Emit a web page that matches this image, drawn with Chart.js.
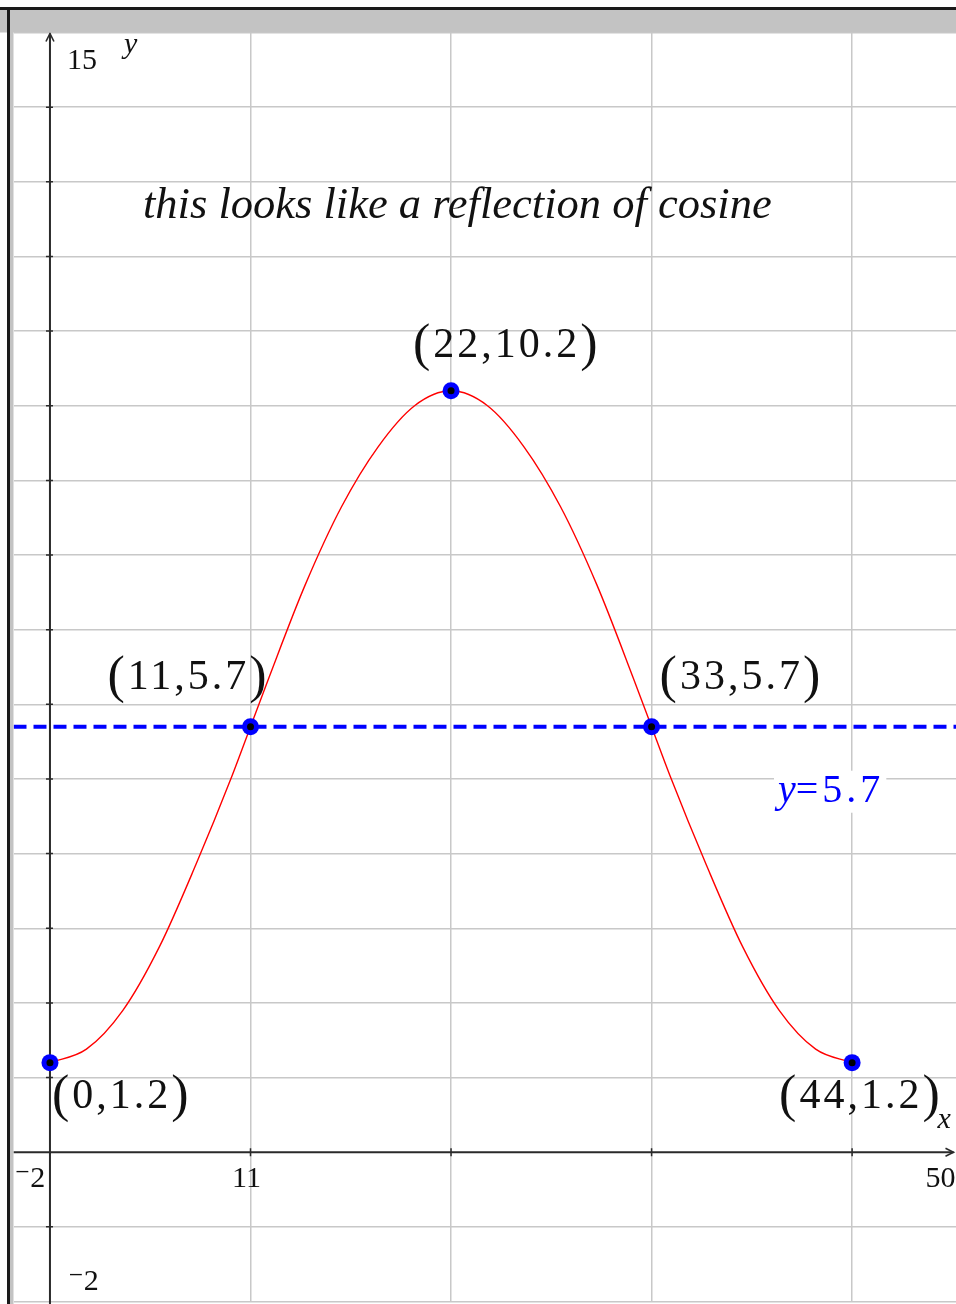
<!DOCTYPE html>
<html>
<head>
<meta charset="utf-8">
<script src="https://cdn.jsdelivr.net/npm/chart.js@4.4.1/dist/chart.umd.min.js"></script>
<style>
  html, body { margin: 0; padding: 0; background: #fff; overflow: hidden; }
  canvas { display: block; }
</style>
</head>
<body>
<canvas id="graph" width="970" height="1310"></canvas>
<script>
// window of the graph
const xRange = [-2, 50];
const yRange = [-2, 15];
const xGridStep = 11;
const yGridStep = 1;

// traced curve, sampled every 2 units plus the crossings
const curveX = [0, 2, 4, 6, 8, 10, 11, 12, 14, 16, 18, 20, 22, 24, 26, 28, 30, 32, 33, 34, 36, 38, 40, 42, 44];
const curveY = [1.2, 1.38, 1.9, 2.75, 3.85, 5.05, 5.7, 6.35, 7.6, 8.65, 9.45, 10.0, 10.2, 10.0, 9.45, 8.65, 7.6, 6.35, 5.7, 5.05, 3.85, 2.75, 1.9, 1.38, 1.2];

// marked points
const pointX = [0, 11, 22, 33, 44];
const pointY = [1.2, 5.7, 10.2, 5.7, 1.2];

// horizontal level line
const levelY = 5.7;

const note = 'this looks like a reflection of cosine';

const SERIF = '"Liberation Serif", "DejaVu Serif", serif';
const BLUE = '#0000ff';

const curveData = curveX.map((x, i) => ({ x, y: curveY[i] }));
const markData = pointX.map((x, i) => ({ x, y: pointY[i] }));
const levelData = [{ x: xRange[0], y: levelY }, { x: xRange[1], y: levelY }];

// where each coordinate label sits relative to its point (px)
const labelOffsets = [[2, 45], [-143, -38], [-38, -34], [8, -38], [-73, 45]];

function fmt(v) { return String(v); }
function minus(v) { return v < 0 ? '\u207B' + Math.abs(v) : String(v); }

// "(a,b)" with tall parentheses and loose digits
function drawCoord(ctx, text, left, base) {
  ctx.fillStyle = '#111';
  ctx.textAlign = 'left';
  ctx.textBaseline = 'alphabetic';
  ctx.font = '52px ' + SERIF;
  ctx.letterSpacing = '0px';
  ctx.fillText('(', left, base + 3);
  let x = left + ctx.measureText('(').width + 3;
  ctx.font = '42px ' + SERIF;
  ctx.letterSpacing = '3px';
  ctx.fillText(text, x, base);
  x += ctx.measureText(text).width;
  ctx.font = '52px ' + SERIF;
  ctx.letterSpacing = '0px';
  ctx.fillText(')', x, base + 3);
}

const graphPaper = {
  id: 'graphPaper',
  beforeDraw(chart) {
    const ctx = chart.ctx;
    ctx.save();
    ctx.fillStyle = '#fff';
    ctx.fillRect(0, 0, chart.width, chart.height);
    ctx.restore();
  },
  beforeDatasetsDraw(chart) {
    const { ctx, scales: { x, y } } = chart;
    const x0 = x.getPixelForValue(0);
    const y0 = y.getPixelForValue(0);
    const tipX = x.getPixelForValue(xRange[1]) - 8;
    const tipY = y.getPixelForValue(yRange[1]) + 1;
    ctx.save();
    ctx.strokeStyle = '#2a2a2a';
    ctx.lineWidth = 2;
    ctx.beginPath();
    ctx.moveTo(x0, chart.height);
    ctx.lineTo(x0, tipY);
    ctx.moveTo(chart.chartArea.left, y0);
    ctx.lineTo(tipX, y0);
    ctx.stroke();
    // arrow heads
    ctx.lineWidth = 1.6;
    ctx.beginPath();
    ctx.moveTo(x0 - 4, tipY + 8);
    ctx.lineTo(x0, tipY);
    ctx.lineTo(x0 + 4, tipY + 8);
    ctx.moveTo(tipX - 8, y0 - 4);
    ctx.lineTo(tipX, y0);
    ctx.lineTo(tipX - 8, y0 + 4);
    ctx.stroke();
    // tick marks
    ctx.lineWidth = 1.5;
    ctx.beginPath();
    for (let v = yRange[0] + 1; v < yRange[1]; v += yGridStep) {
      if (v === 0) continue;
      const py = y.getPixelForValue(v);
      ctx.moveTo(x0 - 4, py);
      ctx.lineTo(x0 + 3, py);
    }
    for (let v = xGridStep; v < xRange[1]; v += xGridStep) {
      const px = x.getPixelForValue(v);
      ctx.moveTo(px, y0 - 4);
      ctx.lineTo(px, y0 + 4);
    }
    ctx.stroke();
    ctx.restore();
  },
  afterDraw(chart) {
    const { ctx, scales: { x, y } } = chart;
    const x0 = x.getPixelForValue(0);
    const y0 = y.getPixelForValue(0);
    ctx.save();

    // window frame and title strip
    ctx.fillStyle = '#c3c3c3';
    ctx.fillRect(0, 10, chart.width, chart.chartArea.top - 10);
    ctx.fillRect(10, 10, 3.5, chart.height);
    ctx.fillStyle = '#1a1a1a';
    ctx.fillRect(0, 7, chart.width, 3);
    ctx.fillRect(7, 7, 3, chart.height);

    // axis numbers
    ctx.fillStyle = '#111';
    ctx.font = '30px ' + SERIF;
    ctx.textBaseline = 'alphabetic';
    ctx.textAlign = 'left';
    ctx.fillText(minus(yRange[1]), x0 + 17, y.getPixelForValue(yRange[1]) + 36);
    ctx.fillText(minus(yRange[0]), x0 + 18, y.getPixelForValue(yRange[0]) - 12);
    ctx.fillText(minus(xRange[0]), x.getPixelForValue(xRange[0]) + 1, y0 + 35);
    ctx.textAlign = 'center';
    ctx.fillText(minus(xGridStep), x.getPixelForValue(xGridStep) - 4, y0 + 35);
    ctx.textAlign = 'right';
    ctx.fillText(minus(xRange[1]), x.getPixelForValue(xRange[1]) - 6, y0 + 35);

    // axis names
    ctx.font = 'italic 30px ' + SERIF;
    ctx.textAlign = 'left';
    ctx.fillText('y', x0 + 74, y.getPixelForValue(yRange[1]) + 20);
    ctx.fillText('x', x.getPixelForValue(xRange[1]) - 24, y0 - 24);

    // note
    ctx.font = 'italic 44.5px ' + SERIF;
    ctx.fillText(note, 143, 218);

    // coordinate labels
    pointX.forEach((v, i) => {
      const px = x.getPixelForValue(v);
      const py = y.getPixelForValue(pointY[i]);
      const [dx, dy] = labelOffsets[i];
      drawCoord(ctx, fmt(v) + ',' + fmt(pointY[i]), px + dx, py + dy);
    });

    // level line equation on a white patch
    const eqLeft = 778;
    const eqBase = y.getPixelForValue(levelY) + 75;
    ctx.font = 'italic 40px ' + SERIF;
    ctx.letterSpacing = '0px';
    const yW = ctx.measureText('y').width;
    ctx.font = '40px ' + SERIF;
    ctx.letterSpacing = '4px';
    const restText = '=' + fmt(levelY);
    const restW = ctx.measureText(restText).width;
    ctx.fillStyle = '#fff';
    ctx.fillRect(eqLeft - 4, eqBase - 31, yW + restW + 6, 42);
    ctx.fillStyle = BLUE;
    ctx.font = 'italic 40px ' + SERIF;
    ctx.letterSpacing = '0px';
    ctx.fillText('y', eqLeft, eqBase);
    ctx.font = '40px ' + SERIF;
    ctx.letterSpacing = '4px';
    ctx.fillText(restText, eqLeft + yW, eqBase);

    ctx.restore();
  }
};

new Chart(document.getElementById('graph'), {
  type: 'scatter',
  data: {
    datasets: [
      {
        data: levelData,
        showLine: true,
        borderColor: BLUE,
        borderWidth: 4,
        borderDash: [13, 7],
        pointRadius: 0,
        order: 4
      },
      {
        data: curveData,
        showLine: true,
        borderColor: '#ff0000',
        borderWidth: 1.4,
        cubicInterpolationMode: 'monotone',
        pointRadius: 0,
        order: 3
      },
      {
        data: markData,
        showLine: false,
        pointRadius: 8.5,
        pointBackgroundColor: BLUE,
        pointBorderWidth: 0,
        order: 2
      },
      {
        data: markData,
        showLine: false,
        pointRadius: 3.5,
        pointBackgroundColor: '#000',
        pointBorderWidth: 0,
        order: 1
      }
    ]
  },
  options: {
    responsive: false,
    animation: false,
    layout: { padding: { left: 13.5, top: 32.5, right: 8, bottom: 2 } },
    plugins: { legend: { display: false }, tooltip: { enabled: false } },
    scales: {
      x: {
        type: 'linear',
        min: xRange[0],
        max: xRange[1],
        afterBuildTicks(scale) {
          const t = [];
          for (let v = 0; v <= xRange[1]; v += xGridStep) t.push({ value: v });
          scale.ticks = t;
        },
        ticks: { display: false },
        border: { display: false },
        grid: {
          drawTicks: false,
          color: c => (c.tick && c.tick.value === 0 ? 'rgba(0,0,0,0)' : '#c8c8c8'),
          lineWidth: 1.5
        }
      },
      y: {
        type: 'linear',
        min: yRange[0],
        max: yRange[1],
        ticks: { display: false, stepSize: yGridStep },
        border: { display: false },
        grid: {
          drawTicks: false,
          color: c => (c.tick && c.tick.value === 0 ? 'rgba(0,0,0,0)' : '#c8c8c8'),
          lineWidth: 1.5
        }
      }
    }
  },
  plugins: [graphPaper]
});
</script>
</body>
</html>
